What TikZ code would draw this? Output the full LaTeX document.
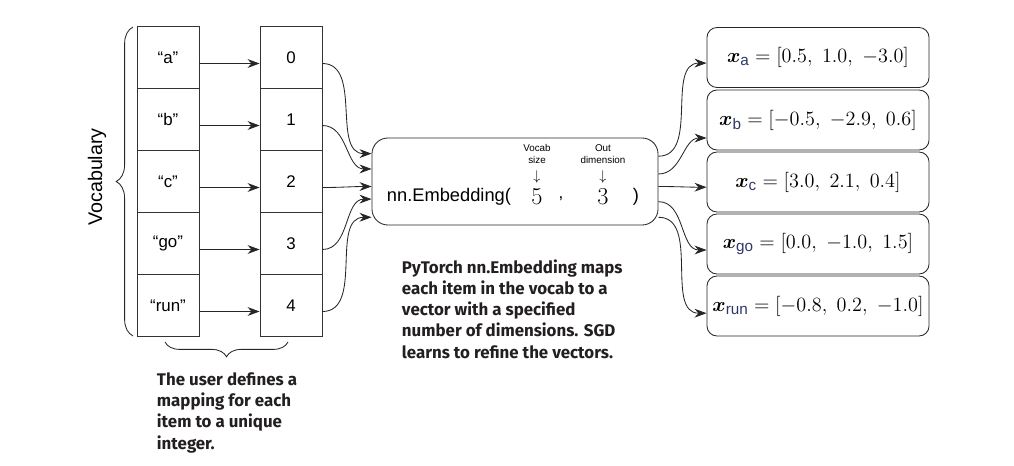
\documentclass[tikz,border=0pt]{standalone}
\usepackage{fontspec}
\usepackage{amsmath}
\usepackage{bm}
\setmainfont{Liberation Sans}
\newfontfamily\notefont{Fira Sans}
\usetikzlibrary{decorations.pathreplacing,arrows.meta}
\definecolor{subblue}{RGB}{45,55,105}
\definecolor{notecol}{RGB}{35,31,32}
\newcommand{\vecx}[2]{$\bm{x}_{\text{\color{subblue}#1}} = [#2]$}

\begin{document}
\begin{tikzpicture}
    [
        x=0.025cm, y=-0.025cm,
        cell/.style = {draw=black!80, shape=rectangle, minimum height=1.55cm, minimum width=1.55cm, line width=0.6pt, inner sep=0pt, font=\large},
        vecbox/.style = {draw=black!85, shape=rectangle, rounded corners=0.25cm, minimum height=1.5cm, minimum width=5.55cm, line width=0.6pt, font=\fontsize{15.5}{18}\selectfont},
        embbox/.style = {draw=black!85, shape=rectangle, rounded corners=0.4cm, minimum height=2.175cm, minimum width=7.15cm, line width=0.6pt},
        note/.style = {align=left, anchor=north west, text=notecol, font=\notefont\bfseries\fontsize{12}{15}\selectfont},
        small/.style = {align=center, font=\fontsize{7}{8}\selectfont, inner sep=0pt},
        link/.style = {-{Stealth[length=3mm,width=2.2mm]}, line width=0.6pt, black!85},
    ]

    \useasboundingbox (0,0) rectangle (1014,466);

    % vocabulary words
    \node[cell] (w0) at (168,57.5)  {“a”};
    \node[cell] (w1) at (168,119.5) {“b”};
    \node[cell] (w2) at (168,181.5) {“c”};
    \node[cell] (w3) at (168,243.5) {“go”};
    \node[cell] (w4) at (168,305.5) {“run”};

    % integer ids
    \node[cell] (i0) at (291,57.5)  {0};
    \node[cell] (i1) at (291,119.5) {1};
    \node[cell] (i2) at (291,181.5) {2};
    \node[cell] (i3) at (291,243.5) {3};
    \node[cell] (i4) at (291,305.5) {4};

    \draw [link] ([yshift=-0.15cm]w0.east) -- ([yshift=-0.15cm]i0.west);
    \draw [link] ([yshift=-0.15cm]w1.east) -- ([yshift=-0.15cm]i1.west);
    \draw [link] ([yshift=-0.15cm]w2.east) -- ([yshift=-0.15cm]i2.west);
    \draw [link] ([yshift=-0.15cm]w3.east) -- ([yshift=-0.15cm]i3.west);
    \draw [link] ([yshift=-0.15cm]w4.east) -- ([yshift=-0.15cm]i4.west);

    % braces and labels
    \draw [black!85, line width=0.6pt, decorate, decoration={brace, amplitude=0.42cm}] (133,336) -- (133,27);
    \node[rotate=90, font=\fontsize{14}{16}\selectfont] (vocab) at (97,177) {Vocabulary};
    \draw [black!85, line width=0.6pt, decorate, decoration={brace, amplitude=0.37cm}] (288,342) -- (165,342);
    \node[note] (usernote) at (152,368) {The user defines a\\mapping for each\\item to a unique\\integer.};

    % embedding layer
    \node[embbox] (emb) at (515,181.5) {};
    \node[anchor=west, font=\fontsize{13}{15}\selectfont] (call) at (382,197) {nn.Embedding(};
    \node[font=\fontsize{16}{18}\selectfont] (five) at (537,197) {$5$};
    \node[font=\large] (comma) at (561,199) {,};
    \node[font=\fontsize{16}{18}\selectfont] (three) at (603,197) {$3$};
    \node[font=\fontsize{13}{15}\selectfont] (close) at (636,197) {)};
    \node[small] (vsize) at (537,154) {Vocab\\size};
    \node[small] (odim) at (603,154) {Out\\dimension};
    \node[inner sep=0pt] (va) at (537,177) {$\downarrow$};
    \node[inner sep=0pt] (oa) at (603,177) {$\downarrow$};

    \draw [link] ([yshift=-0.15cm]i0.east) to[out=0, in=180] (emb.169.5);
    \draw [link] ([yshift=-0.15cm]i1.east) to[out=0, in=180] (emb.175.8);
    \draw [link] ([yshift=-0.15cm]i2.east) to[out=0, in=180] (emb.182.2);
    \draw [link] ([yshift=-0.15cm]i3.east) to[out=0, in=180] (emb.187.8);
    \draw [link] ([yshift=-0.15cm]i4.east) to[out=0, in=180] (emb.194);

    \node[note] (torchnote) at (397,255) {PyTorch nn.Embedding maps\\each item in the vocab to a\\vector with a specified\\number of dimensions. SGD\\learns to refine the vectors.};

    % embedding vectors
    \node[vecbox] (v0) at (818,57.5) {\vecx{a}{0.5,\ 1.0,\ -3.0}};
    \node[vecbox] (v1) at (818,120)  {\vecx{b}{-0.5,\ -2.9,\ 0.6}};
    \node[vecbox] (v2) at (818,182)  {\vecx{c}{3.0,\ 2.1,\ 0.4}};
    \node[vecbox] (v3) at (818,244)  {\vecx{go}{0.0,\ -1.0,\ 1.5}};
    \node[vecbox] (v4) at (818,306)  {\vecx{run}{-0.8,\ 0.2,\ -1.0}};

    \draw [link] (emb.10.5) to[out=0, in=180] ([yshift=-0.14cm]v0.west);
    \draw [link] (emb.3.4)  to[out=0, in=180] ([yshift=-0.45cm]v1.west);
    \draw [link] (emb.-2.2) to[out=0, in=180] ([yshift=-0.13cm]v2.west);
    \draw [link] (emb.-8.2) to[out=0, in=180] ([yshift=-0.15cm]v3.west);
    \draw [link] (emb.-14)  to[out=0, in=180] ([yshift=-0.18cm]v4.west);
\end{tikzpicture}
\end{document}
